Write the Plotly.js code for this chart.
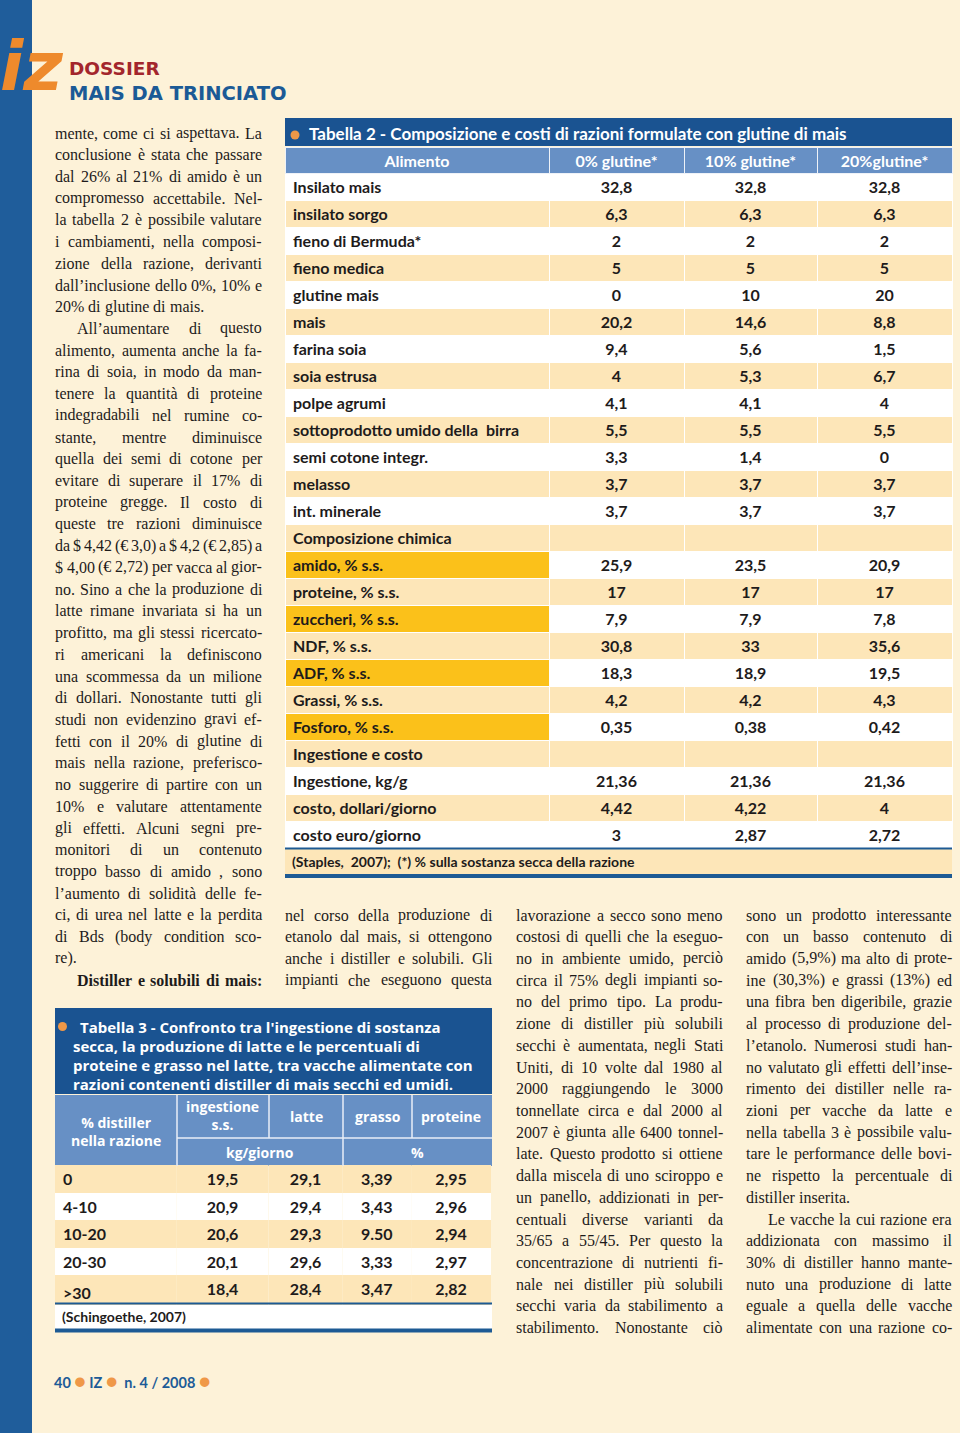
<!DOCTYPE html>
<html><head><meta charset="utf-8">
<script src="https://cdn.plot.ly/plotly-3.0.1.min.js"></script>
<style>html,body{margin:0;padding:0;background:#fdf2d8;}#chart{width:960px;height:1433px;}</style>
</head><body><div id="chart"></div>
<script>
// ---------- DATA ----------
const t2Title = 'Tabella 2 - Composizione e costi di razioni formulate con glutine di mais';
const t2Columns = ['Alimento', '0% glutine*', '10% glutine*', '20%glutine*'];
const t2Foods = ['Insilato mais','insilato sorgo','fieno di Bermuda*','fieno medica','glutine mais','mais','farina soia','soia estrusa','polpe agrumi','sottoprodotto umido della  birra','semi cotone integr.','melasso','int. minerale','Composizione chimica','amido, % s.s.','proteine, % s.s.','zuccheri, % s.s.','NDF, % s.s.','ADF, % s.s.','Grassi, % s.s.','Fosforo, % s.s.','Ingestione e costo','Ingestione, kg/g','costo, dollari/giorno','costo euro/giorno'];
const t2Glutine0  = ['32,8','6,3','2','5','0','20,2','9,4','4','4,1','5,5','3,3','3,7','3,7','','25,9','17','7,9','30,8','18,3','4,2','0,35','','21,36','4,42','3'];
const t2Glutine10 = ['32,8','6,3','2','5','10','14,6','5,6','5,3','4,1','5,5','1,4','3,7','3,7','','23,5','17','7,9','33','18,9','4,2','0,38','','21,36','4,22','2,87'];
const t2Glutine20 = ['32,8','6,3','2','5','20','8,8','1,5','6,7','4','5,5','0','3,7','3,7','','20,9','17','7,8','35,6','19,5','4,3','0,42','','21,36','4','2,72'];
const t2Note = '(Staples,  2007);  (*) % sulla sostanza secca della razione';

const t3TitleLines = ["Tabella 3 - Confronto tra l'ingestione di sostanza", "secca, la produzione di latte e le percentuali di", "proteine e grasso nel latte, tra vacche alimentate con", "razioni contenenti distiller di mais secchi ed umidi."];
const t3HeadFirst = '% distiller<br>nella razione';
const t3HeadTop = ['ingestione<br>s.s.', 'latte', 'grasso', 'proteine'];
const t3Units = ['kg/giorno', '%'];
const t3Distiller = ['0', '4-10', '10-20', '20-30', '>30'];
const t3Ingestione = ['19,5', '20,9', '20,6', '20,1', '18,4'];
const t3Latte = ['29,1', '29,4', '29,3', '29,6', '28,4'];
const t3Grasso = ['3,39', '3,43', '9.50', '3,33', '3,47'];
const t3Proteine = ['2,95', '2,96', '2,94', '2,97', '2,82'];
const t3Note = '(Schingoethe, 2007)';

const col1Lines = ['mente, come ci si aspettava. La','conclusione è stata che passare','dal 26% al 21% di amido è un','compromesso accettabile. Nel-','la tabella 2 è possibile valutare','i cambiamenti, nella composi-','zione della razione, derivanti','dall’inclusione dello 0%, 10% e','20% di glutine di mais.','All’aumentare di questo','alimento, aumenta anche la fa-','rina di soia, in modo da man-','tenere la quantità di proteine','indegradabili nel rumine co-','stante, mentre diminuisce','quella dei semi di cotone per','evitare di superare il 17% di','proteine gregge. Il costo di','queste tre razioni diminuisce','da $ 4,42 (€ 3,0) a $ 4,2 (€ 2,85) a','$ 4,00 (€ 2,72) per vacca al gior-','no. Sino a che la produzione di','latte rimane invariata si ha un','profitto, ma gli stessi ricercato-','ri americani la definiscono','una scommessa da un milione','di dollari. Nonostante tutti gli','studi non evidenzino gravi ef-','fetti con il 20% di glutine di','mais nella razione, preferisco-','no suggerire di partire con un','10% e valutare attentamente','gli effetti. Alcuni segni pre-','monitori di un contenuto','troppo basso di amido , sono','l’aumento di solidità delle fe-','ci, di urea nel latte e la perdita','di Bds (body condition sco-','re).','Distiller e solubili di mais:'];
const col2Lines = ['nel corso della produzione di','etanolo dal mais, si ottengono','anche i distiller e solubili. Gli','impianti che eseguono questa'];
const col3Lines = ['lavorazione a secco sono meno','costosi di quelli che la eseguo-','no in ambiente umido, perciò','circa il 75% degli impianti so-','no del primo tipo. La produ-','zione di distiller più solubili','secchi è aumentata, negli Stati','Uniti, di 10 volte dal 1980 al','2000 raggiungendo le 3000','tonnellate circa e dal 2000 al','2007 è giunta alle 6400 tonnel-','late. Questo prodotto si ottiene','dalla miscela di uno sciroppo e','un panello, addizionati in per-','centuali diverse varianti da','35/65 a 55/45. Per questo la','concentrazione di nutrienti fi-','nale nei distiller più solubili','secchi varia da stabilimento a','stabilimento. Nonostante ciò'];
const col4Lines = ['sono un prodotto interessante','con un basso contenuto di','amido (5,9%) ma alto di prote-','ine (30,3%) e grassi (13%) ed','una fibra ben digeribile, grazie','al processo di produzione del-','l’etanolo. Numerosi studi han-','no valutato gli effetti dell’inse-','rimento dei distiller nelle ra-','zioni per vacche da latte e','nella tabella 3 è possibile valu-','tare le performance delle bovi-','ne rispetto la percentuale di','distiller inserita.','Le vacche la cui razione era','addizionata con massimo il','30% di distiller hanno mante-','nuto una produzione di latte','eguale a quella delle vacche','alimentate con una razione co-'];

// ---------- STYLE ----------
const W = 960, H = 1433;
const BG = '#fdf2d8', CREAM = '#fde6b8', YELLOW = '#fbc11a', WHITE = '#ffffff';
const DARKBLUE = '#1a5391', MIDBLUE = '#6790c5', STRIPE = '#1f5d9b', ORANGE = '#ef9848';
const INK = '#1e1b1b';
const SANS = 'Lato';
const px = x => x / W, py = y => 1 - y / H;
const b = s => '<b>' + s + '</b>';

const shapes = [];
const annotations = [];
function rect(x0, y0, x1, y1, color, layer) {
  shapes.push({type: 'rect', xref: 'paper', yref: 'paper', x0: px(x0), x1: px(x1), y0: py(y1), y1: py(y0),
    fillcolor: color, line: {width: 0}, layer: layer || 'below'});
}
function hline(x0, x1, y, w, color) {
  shapes.push({type: 'line', xref: 'paper', yref: 'paper', x0: px(x0), x1: px(x1), y0: py(y), y1: py(y),
    line: {width: w, color: color}, layer: 'above'});
}
function vline(x, y0, y1, w, color) {
  shapes.push({type: 'line', xref: 'paper', yref: 'paper', x0: px(x), x1: px(x), y0: py(y0), y1: py(y1),
    line: {width: w, color: color}, layer: 'above'});
}
function dot(x, y, r, color) {
  shapes.push({type: 'circle', xref: 'paper', yref: 'paper', x0: px(x - r), x1: px(x + r), y0: py(y + r), y1: py(y - r),
    fillcolor: color, line: {width: 0}, layer: 'above'});
}
function text(t, x, y, opts) {
  opts = opts || {};
  annotations.push({text: t, x: px(x), y: py(y), xref: 'paper', yref: 'paper', showarrow: false,
    xanchor: opts.xanchor || 'left', yanchor: 'middle', align: opts.align || 'left', borderpad: 0, borderwidth: 0,
    font: {family: opts.family || SANS, size: opts.size || 16, color: opts.color || INK}});
}

// page decoration
rect(0, 0, 32, H, STRIPE);
text('<b><i>iz</i></b>', 0, 67, {family: 'DejaVu Sans', size: 68, color: '#ee8a2c'});
text('<b><span style="color:#a3262c;font-size:18.5px">DOSSIER</span><br>MAIS DA TRINCIATO</b>', 69, 82, {family: 'DejaVu Sans', size: 19.5, color: '#1b5a96'});
const fdot = '<span style="color:' + ORANGE + ';font-size:19px">●</span>';
text('<b>40 ' + fdot + ' IZ ' + fdot + '  n. 4 / 2008 ' + fdot + '</b>', 54, 1380.5, {size: 14.5, color: '#1c5b97'});

// ---------- TABLE 2 ----------
rect(285, 118, 952, 146, DARKBLUE);
dot(295, 135, 4.5, ORANGE);
text(b(t2Title), 309, 134, {size: 17, color: WHITE});
const t2LabelFill = t2Foods.map((f, i) => ([14, 16, 18, 20].includes(i) ? YELLOW : (i % 2 ? CREAM : WHITE)));
const t2ValFill = t2Foods.map((f, i) => (i % 2 ? CREAM : WHITE));
rect(285, 849, 952, 874, CREAM);
hline(285, 952, 848.5, 2, '#1d5a94');
hline(285, 952, 876, 4, '#1d5a94');
text(b(t2Note), 292, 861, {size: 14});

// ---------- TABLE 3 ----------
rect(55, 1008, 492, 1094, DARKBLUE);
rect(55, 1095, 492, 1166, MIDBLUE);
dot(62.5, 1026.5, 4.5, ORANGE);
const t3TitleY = [1026.5, 1046, 1065, 1083.5];
t3TitleLines.forEach((l, i) => text(b(l), i ? 73 : 80, t3TitleY[i], {family: 'Open Sans', size: 15, color: WHITE}));
vline(177, 1095, 1166, 1.5, '#e8eef7');
vline(269, 1095, 1138, 1.5, '#e8eef7');
vline(343, 1095, 1166, 1.5, '#e8eef7');
vline(412, 1095, 1138, 1.5, '#e8eef7');
hline(177, 492, 1138, 1.5, '#e8eef7');
const hopt = {family: 'Open Sans', size: 14, color: WHITE, xanchor: 'center', align: 'center'};
text(b(t3HeadFirst), 116, 1131, hopt);
text(b(t3HeadTop[0]), 222, 1115.5, hopt);
text(b(t3HeadTop[1]), 306, 1116, hopt);
text(b(t3HeadTop[2]), 377.5, 1116, hopt);
text(b(t3HeadTop[3]), 451, 1116, hopt);
text(b(t3Units[0]), 260, 1152, hopt);
text(b(t3Units[1]), 417, 1152, hopt);
rect(55, 1304, 492, 1329, WHITE);
hline(55, 492, 1303.5, 2, '#1d5a94');
hline(55, 492, 1330.5, 4, '#1d5a94');
text(b(t3Note), 62, 1316, {size: 14});

// ---------- JUSTIFIED BODY TEXT ----------
const SERIF = 'Liberation Serif';
const FS = 16;
const cvs = document.createElement('canvas').getContext('2d');
function mw(t, bold) { cvs.font = (bold ? 'bold ' : '') + FS + 'px "' + SERIF + '"'; return cvs.measureText(t).width; }
function column(lines, x0, x1, y0, step, indents, lasts, bolds) {
  lines.forEach((line, i) => {
    const bold = bolds.includes(i);
    const start = x0 + (indents.includes(i) ? 22 : 0);
    const y = y0 + i * step;
    const words = line.split(' ').filter(w => w.length);
    const widths = words.map(w => mw(w, bold));
    const sum = widths.reduce((a, c) => a + c, 0);
    let gap = mw(' ', bold);
    if (!lasts.includes(i) && words.length > 1) gap = Math.max(2, (x1 - start - sum) / (words.length - 1));
    let x = start;
    words.forEach((w, k) => {
      annotations.push({text: bold ? b(w) : w, x: px(x), y: py(y), xref: 'paper', yref: 'paper', showarrow: false,
        xanchor: 'left', yanchor: 'middle', borderpad: 0, borderwidth: 0,
        font: {family: SERIF, size: FS, color: INK}});
      x += widths[k] + gap;
    });
  });
}
const STEP = 21.72;
column(col1Lines, 55, 262, 133, STEP, [9, 39], [8, 38], [39]);
column(col2Lines, 285, 492, 915, STEP, [], [], []);
column(col3Lines, 516, 723, 915, STEP, [], [], []);
column(col4Lines, 746, 952, 915, STEP, [14], [13], []);

// ---------- TRACES ----------
const cellFont = {family: SANS, size: 16, color: INK, weight: 'bold'};
const table2 = {
  type: 'table',
  domain: {x: [px(285), px(952)], y: [py(853), py(147)]},
  columnwidth: [264, 135, 133, 135],
  header: {values: t2Columns, height: 26, align: 'center',
    fill: {color: MIDBLUE}, line: {color: '#eef2f8', width: 1},
    font: {family: SANS, size: 16, color: WHITE, weight: 'bold'}},
  cells: {values: [t2Foods, t2Glutine0, t2Glutine10, t2Glutine20],
    height: 27, align: ['left', 'center', 'center', 'center'],
    fill: {color: [t2LabelFill, t2ValFill, t2ValFill, t2ValFill]},
    line: {color: WHITE, width: 1},
    font: cellFont}
};
const t3Fill = t3Distiller.map((d, i) => (i % 2 ? WHITE : CREAM));
const table3 = {
  type: 'table',
  domain: {x: [px(55), px(492)], y: [py(1306), py(1164)]},
  columnwidth: [122, 92, 74, 69, 80],
  header: {values: ['', '', '', '', ''], height: 1, fill: {color: MIDBLUE}, line: {width: 0, color: MIDBLUE},
    font: {size: 1, color: MIDBLUE}},
  cells: {values: [t3Distiller, t3Ingestione, t3Latte, t3Grasso, t3Proteine],
    height: 27.5, align: ['left', 'center', 'center', 'center', 'center'],
    fill: {color: [t3Fill, t3Fill, t3Fill, t3Fill, t3Fill]},
    line: {color: WHITE, width: 0},
    font: cellFont}
};

Plotly.newPlot('chart', [table2, table3], {
  width: W, height: H, margin: {l: 0, r: 0, t: 0, b: 0},
  paper_bgcolor: BG, plot_bgcolor: BG, showlegend: false,
  shapes: shapes, annotations: annotations
}, {staticPlot: true, displayModeBar: false});
</script></body></html>
